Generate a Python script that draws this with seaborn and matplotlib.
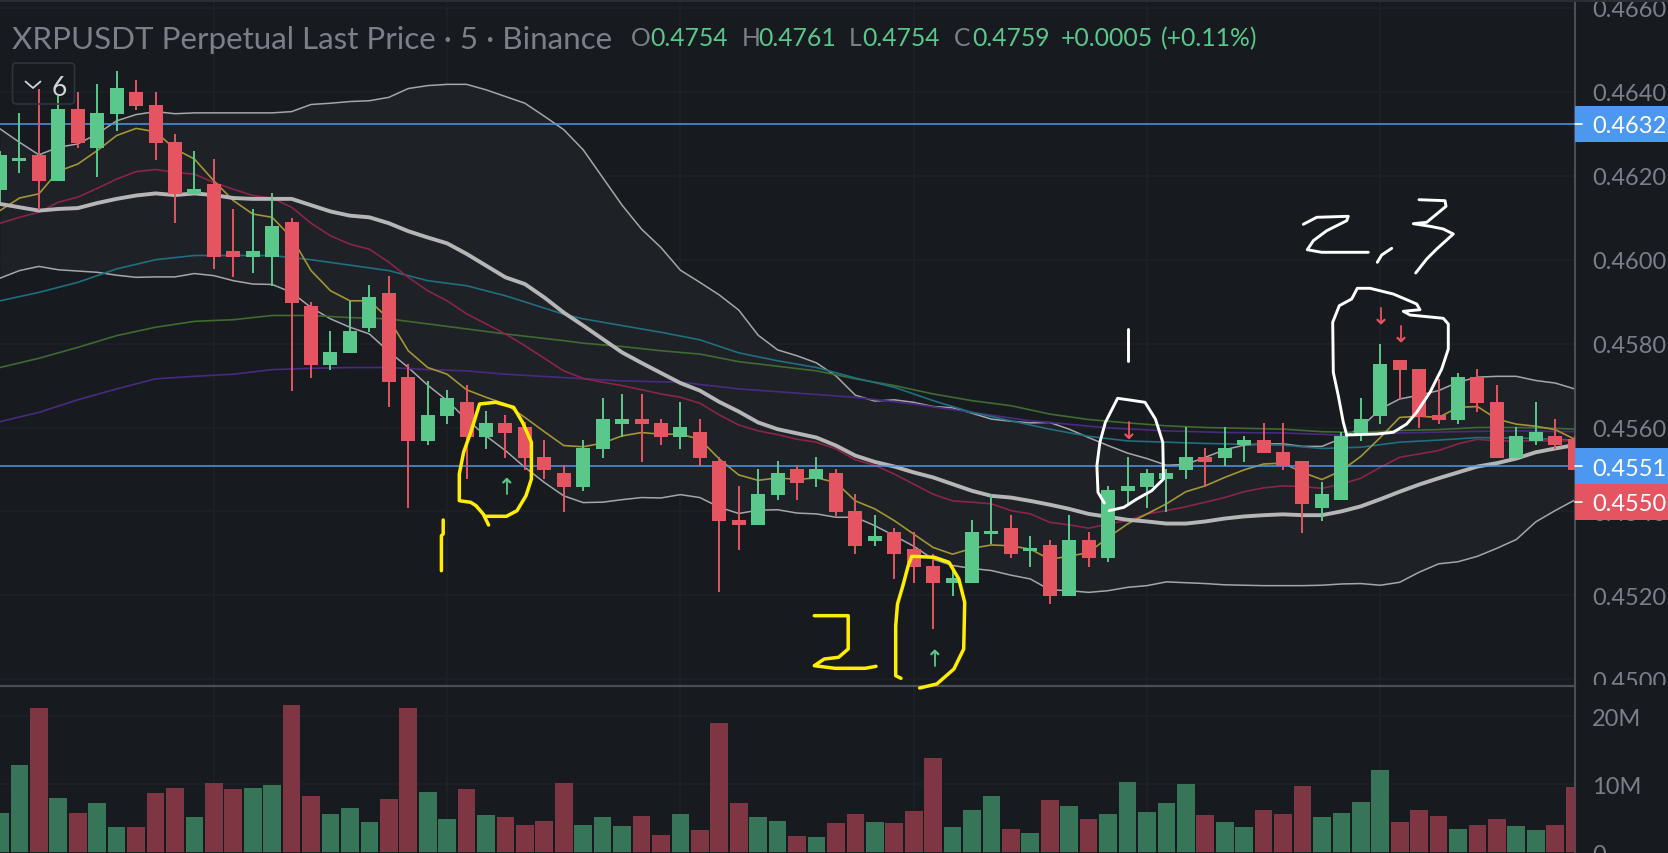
import numpy as np
import pandas as pd
import matplotlib
matplotlib.use("Agg")
import matplotlib.pyplot as plt
from matplotlib.patches import Rectangle, FancyBboxPatch
from matplotlib.transforms import Bbox
import seaborn as sns

# ---------- data ----------
open_ = [.46167,.46236,.46250,.46188,.46359,.46266,.46347,.46400,.46369,.46281,.46157,.46180,.46021,.46006,.46006,.46090,.45890,.45749,.45778,.45837,.45921,
         .45720,.45568,.45627,.45661,.45577,.45611,.45601,.45530,.45491,.45458,.45549,.45608,.45620,.45611,.45577,.45589,.45520,.45379,.45367,.45439,
         .45501,.45477,.45491,.45401,.45329,.45351,.45310,.45270,.45229,.45229,.45346,.45360,.45306,.45320,.45198,.45332,.45289,.45449,.45458,.45477,
         .45499,.45530,.45527,.45558,.45570,.45541,.45520,.45408,.45427,.45584,.45627,.45761,.45739,.45630,.45618,.45720,.45661,.45527,.45568,.45580,.45572]
high = [.46260,.46349,.46408,.46391,.46399,.46419,.46450,.46428,.46400,.46300,.46259,.46240,.46121,.46121,.46159,.46099,.45899,.45830,.45902,.45940,.45960,
        .45751,.45711,.45689,.45701,.45639,.45630,.45612,.45570,.45510,.45570,.45670,.45680,.45680,.45620,.45661,.45620,.45529,.45461,.45501,.45520,
        .45510,.45530,.45501,.45441,.45391,.45360,.45351,.45298,.45260,.45379,.45441,.45391,.45341,.45332,.45391,.45351,.45461,.45530,.45501,.45501,
        .45601,.45551,.45601,.45580,.45611,.45611,.45520,.45470,.45590,.45670,.45799,.45761,.45739,.45716,.45730,.45739,.45701,.45601,.45661,.45620,.45580]
low = [.46137,.46207,.46119,.46188,.46266,.46198,.46307,.46357,.46238,.46087,.46157,.45978,.45959,.45968,.45938,.45687,.45718,.45737,.45778,.45828,.45649,
       .45408,.45558,.45608,.45477,.45549,.45527,.45499,.45477,.45398,.45449,.45527,.45577,.45518,.45558,.45549,.45508,.45208,.45308,.45367,.45427,
       .45427,.45458,.45389,.45298,.45317,.45239,.45229,.45120,.45198,.45229,.45322,.45289,.45267,.45179,.45198,.45267,.45279,.45418,.45408,.45398,
       .45477,.45458,.45508,.45518,.45539,.45499,.45348,.45377,.45427,.45568,.45608,.45668,.45599,.45608,.45608,.45637,.45527,.45527,.45558,.45549,.45499]
close = [.46250,.46242,.46188,.46359,.46278,.46350,.46409,.46366,.46278,.46157,.46168,.46006,.46006,.46021,.46080,.45897,.45749,.45780,.45830,.45911,.45708,
         .45568,.45630,.45670,.45577,.45611,.45587,.45527,.45499,.45458,.45551,.45620,.45620,.45608,.45577,.45601,.45527,.45377,.45367,.45441,.45491,
         .45468,.45501,.45398,.45317,.45341,.45298,.45267,.45229,.45241,.45351,.45353,.45298,.45313,.45198,.45332,.45289,.45451,.45461,.45491,.45491,
         .45530,.45518,.45551,.45570,.45539,.45508,.45418,.45441,.45580,.45620,.45751,.45737,.45625,.45618,.45720,.45658,.45527,.45580,.45589,.45558,.45499]
volume_m = [5.74,12.79,21.18,7.94,5.74,7.21,3.68,3.68,8.68,9.41,5.15,10.15,9.26,9.41,9.85,21.62,8.24,5.59,6.47,4.41,7.79,
            21.18,8.82,4.85,9.26,5.44,5.15,3.97,4.56,10.15,3.97,5.15,3.82,5.29,2.5,5.59,3.24,18.97,7.21,5.15,4.56,
            2.35,2.21,4.26,5.59,4.41,4.26,6.03,13.82,3.68,6.18,8.24,3.38,2.79,7.65,6.76,4.85,5.59,10.29,5.88,7.21,
            10.0,5.44,4.41,3.68,6.18,5.59,9.71,5.15,5.74,7.35,12.06,4.41,6.18,5.29,3.38,3.97,4.85,3.82,3.24,3.97,9.56]

bb_upper = [.46312,.46280,.46250,.46268,.46276,.46300,.46331,.46346,.46353,.46348,.46350,.46350,.46350,.46350,.46350,.46353,.46370,.46373,.46377,.46379,.46387,
            .46408,.46415,.46418,.46418,.46405,.46389,.46373,.46342,.46310,.46262,.46196,.46130,.46073,.46029,.45975,.45946,.45916,.45880,.45820,.45785,
            .45771,.45754,.45723,.45677,.45663,.45666,.45660,.45650,.45647,.45634,.45620,.45615,.45611,.45612,.45596,.45576,.45557,.45539,.45526,.45510,
            .45512,.45529,.45547,.45558,.45561,.45561,.45555,.45555,.45574,.45600,.45644,.45668,.45677,.45688,.45708,.45720,.45722,.45722,.45712,.45706,.45692]
bb_mid = [.46133,.46125,.46117,.46121,.46123,.46135,.46145,.46153,.46158,.46154,.46158,.46154,.46147,.46145,.46145,.46145,.46130,.46115,.46105,.46101,.46087,
          .46068,.46053,.46039,.46014,.45986,.45958,.45942,.45910,.45874,.45843,.45811,.45779,.45754,.45730,.45706,.45688,.45661,.45638,.45612,.45596,
          .45586,.45576,.45557,.45533,.45518,.45507,.45493,.45481,.45465,.45449,.45437,.45433,.45425,.45416,.45406,.45394,.45387,.45380,.45376,.45371,
          .45371,.45376,.45383,.45388,.45391,.45393,.45391,.45391,.45400,.45412,.45429,.45447,.45464,.45479,.45493,.45507,.45515,.45526,.45541,.45550,.45558]
bb_lower = [.45956,.45974,.45984,.45976,.45973,.45970,.45963,.45958,.45959,.45959,.45967,.45962,.45950,.45942,.45941,.45922,.45886,.45859,.45839,.45823,.45781,
            .45743,.45701,.45664,.45619,.45580,.45545,.45505,.45469,.45437,.45421,.45422,.45428,.45433,.45432,.45440,.45433,.45410,.45395,.45403,.45404,
            .45396,.45394,.45386,.45386,.45366,.45342,.45317,.45286,.45271,.45264,.45259,.45248,.45239,.45213,.45211,.45207,.45211,.45219,.45223,.45232,
            .45230,.45228,.45225,.45224,.45223,.45223,.45223,.45224,.45227,.45228,.45224,.45231,.45255,.45275,.45280,.45293,.45312,.45333,.45375,.45402,.45427]
ema_yellow = [.46117,.46147,.46157,.46211,.46228,.46260,.46296,.46313,.46305,.46264,.46240,.46188,.46141,.46109,.46101,.46053,.45974,.45926,.45902,.45902,.45859,
              .45783,.45743,.45727,.45690,.45672,.45656,.45624,.45590,.45557,.45554,.45563,.45580,.45588,.45584,.45584,.45572,.45525,.45487,.45474,.45480,
              .45476,.45480,.45469,.45425,.45406,.45378,.45346,.45314,.45298,.45312,.45320,.45318,.45310,.45286,.45293,.45302,.45338,.45370,.45394,.45418,
              .45447,.45461,.45481,.45499,.45513,.45515,.45493,.45476,.45497,.45531,.45576,.45624,.45627,.45624,.45648,.45650,.45620,.45608,.45603,.45595,.45572]
ema_crimson = [.46087,.46101,.46113,.46137,.46149,.46170,.46192,.46210,.46215,.46208,.46204,.46184,.46168,.46153,.46147,.46125,.46087,.46057,.46037,.46025,.45994,
               .45958,.45926,.45902,.45871,.45847,.45823,.45795,.45765,.45735,.45717,.45708,.45700,.45690,.45680,.45672,.45658,.45630,.45606,.45592,.45583,
               .45572,.45565,.45549,.45523,.45510,.45489,.45465,.45441,.45425,.45422,.45418,.45402,.45394,.45374,.45368,.45360,.45370,.45378,.45394,.45402,
               .45411,.45422,.45433,.45447,.45456,.45461,.45459,.45455,.45465,.45479,.45505,.45529,.45537,.45545,.45561,.45572,.45568,.45568,.45568,.45568,.45568]
teal_i = [0,2,4,6,8,10,12,14,16,18,20,22,24,26,29,30,32,34,36,38,40,42,44,46,48,50,52,54,56,58,60,62,64,66,68,70,72,74,76,78,80,81]
teal_p = [.45902,.45922,.45946,.45978,.46000,.46010,.46010,.46010,.46000,.45987,.45974,.45950,.45938,.45914,.45870,.45859,.45843,.45827,.45809,.45778,.45759,
          .45743,.45718,.45696,.45664,.45636,.45616,.45596,.45579,.45568,.45565,.45562,.45560,.45558,.45550,.45553,.45565,.45570,.45576,.45575,.45572,.45570]
green_i = [0,2,4,6,8,10,12,14,16,18,20,22,24,26,29,30,32,34,36,38,40,42,44,46,48,50,52,54,56,58,60,62,64,66,68,70,72,74,76,78,80,81]
green_p = [.45743,.45765,.45791,.45819,.45839,.45853,.45857,.45867,.45867,.45862,.45859,.45847,.45835,.45823,.45807,.45801,.45793,.45783,.45775,.45757,.45746,
           .45735,.45716,.45700,.45680,.45664,.45652,.45632,.45619,.45611,.45604,.45600,.45598,.45596,.45590,.45588,.45593,.45595,.45600,.45600,.45598,.45596]
purple_i = [0,2,4,6,8,10,12,14,16,18,20,22,24,26,29,32,35,38,41,44,47,50,53,54,57,60,63,66,69,72,75,78,81]
purple_p = [.45614,.45636,.45666,.45692,.45716,.45722,.45727,.45738,.45741,.45743,.45743,.45738,.45735,.45727,.45719,.45711,.45708,.45692,.45682,.45672,.45656,.45636,.45616,.45612,.45599,.45592,.45588,.45587,.45582,.45587,.45590,.45592,.45590]

price_ticks = [0.4500,0.4520,0.4540,0.4560,0.4580,0.4600,0.4620,0.4640,0.4660]
volume_ticks = [0,10,20]
hour_candles = [11,23,35,47,59,71]
blue_levels = [0.46324,0.45508]
last_price_label = "0.4550"
title_text = "XRPUSDT Perpetual Last Price · 5 · Binance"
legend_parts = ["O","0.4754","H","0.4761","L","0.4754","C","0.4759","+0.0005","(+0.11%)"]

# hand-drawn marks on the screenshot (screen pixels)
yellow_strokes = [
    [(488.6,526),(483.2,515),(476,506.7),(470.7,503.3),(459.3,501.7),(459.3,475),(463.6,453.3),(470.7,433.3),(479.6,405),(495.7,403.3),(513.6,408.3),(522.5,423.3),(531.4,443.3),(531.4,480),(526,496.7),(517,511.7),(506.4,517.3),(485,517.3)],
    [(443.2,521),(443.2,535),(441.4,536.7),(441.4,571.7)],
    [(814.3,616.7),(848.2,616.7),(848.2,650),(838.6,658.3),(824.3,660),(814.3,666.7),(835,669.3),(865.4,669.3),(876,667.3)],
    [(901,679.3),(895.7,676.7),(895.7,626.7),(897.5,605),(902.9,586.7),(908.2,566.7),(911.8,557.3),(934.3,558.3),(949,563.3),(958.8,580),(964.7,603.3),(963.7,650),(953.9,670),(936.8,685),(919.6,689)],
]
white_strokes = [
    [(1128,330),(1128,362)],
    [(1104.3,504),(1098,493.3),(1096.9,466.7),(1099.9,443.3),(1105.4,423.3),(1117.6,399.3),(1127.6,400.7),(1145,403.3),(1155.4,420),(1162.8,443.3),(1163.5,480),(1151.7,491.7),(1136.9,500),(1123.9,508.3),(1109.1,511.7)],
    [(1346.7,436),(1343.3,423.3),(1338.3,396.7),(1333.3,373.3),(1332.7,323.3),(1339.3,306.7),(1351.7,300),(1357.3,289.3),(1370,289.3),(1393.3,295),(1416.7,305),(1420,310.7),(1403.3,312.3),(1410,316),(1443.3,319.3),(1448.3,325),(1448.3,350),(1441.7,370),(1430,393.3),(1416.7,413.3),(1406.7,425),(1393.3,433.3),(1376.7,435),(1346.7,436)],
    [(1303.3,225.3),(1316.7,218.3),(1348.3,217.3),(1346.7,221.7),(1326.7,231.7),(1313.3,241.7),(1307.3,250.7),(1321.7,253.3),(1368.3,253.3)],
    [(1391.7,249.3),(1381.7,256),(1377.3,263.3)],
    [(1419,200.7),(1445,201.7),(1446,207.3),(1426.7,223.3),(1413.3,224.7),(1430,227.3),(1443.3,230),(1453.3,235),(1436.7,250),(1426.7,260),(1415.7,274)],
]
up_arrows = [(506.8,480,495),(934.8,651.7,666.7)]
down_arrows = [(1128.9,423.3,439),(1381,309.3,324.3),(1401,327,342.3)]

# ---------- style ----------
BG = "#171b20"; BAND = "#1e2126"; GRID = "#1d2126"; AXIS = "#4a4e57"; TXT = "#7b7f8a"
UP = "#5bc88b"; DOWN = "#e55461"; VUP = "#377558"; VDOWN = "#7e3742"; BLUE = "#4c97f0"

sns.set_theme(style="dark", rc={"axes.facecolor": BG, "figure.facecolor": BG})
plt.rcParams["font.family"] = ["Lato", "DejaVu Sans"]

W, H = 1668, 854
AX_R, SEP = 1575, 686.7
fig = plt.figure(figsize=(W/100, H/100), dpi=100)
ax = fig.add_axes([0, 1-SEP/H, AX_R/W, SEP/H])
axv = fig.add_axes([0, 0, AX_R/W, 1-SEP/H])
idx = np.arange(len(open_))

# ---------- indicators ----------
ax.fill_between(idx, bb_lower, bb_upper, color=BAND, lw=0, zorder=1)
for xs, ys, c, lw in [
    (idx, bb_lower, "#a6a6a8", 1.1), (idx, bb_upper, "#a6a6a8", 1.1),
    (purple_i, purple_p, "#4a2a80", 1.2), (green_i, green_p, "#3f6b30", 1.2),
    (teal_i, teal_p, "#1f6f80", 1.2), (idx, ema_crimson, "#8a2449", 1.2),
    (idx, ema_yellow, "#a39535", 1.2), (idx, bb_mid, "#b6b6b6", 2.8)]:
    sns.lineplot(x=xs, y=ys, ax=ax, color=c, lw=lw, zorder=2)

for lv in blue_levels:
    ax.axhline(lv, color=BLUE, lw=1.1, zorder=2.5)

# ---------- candles ----------
o, h, l, c = map(np.array, (open_, high, low, close))
colors = np.where(c >= o, UP, DOWN)
ax.vlines(idx, l, h, colors=colors, lw=1.4, zorder=3)
ax.bar(idx, np.abs(c-o), bottom=np.minimum(o, c), width=0.72, color=colors, lw=0, zorder=3)

# ---------- volume ----------
df = pd.DataFrame({"i": idx, "vol": volume_m, "dir": np.where(c >= o, "up", "down")})
sns.barplot(data=df, x="i", y="vol", hue="dir", palette={"up": VUP, "down": VDOWN},
            native_scale=True, dodge=False, width=0.91, saturation=1, legend=False, ax=axv,
            zorder=3, linewidth=0, edgecolor="none")

# ---------- axes ----------
xlim = (0, AX_R/19.44)
ax.set_xlim(xlim); axv.set_xlim(xlim)
ax.set_ylim(.46+(260.7-SEP)/41950, .46+260.7/41950)
axv.set_ylim(-0.147, 24.46)
for a in (ax, axv):
    a.set_facecolor(BG)
    a.set_xlabel(""); a.set_ylabel("")
    a.set_xticks(hour_candles); a.set_xticklabels([])
    a.yaxis.tick_right()
    a.tick_params(axis="x", length=0)
    a.tick_params(axis="y", length=5.8, width=1.2, color=AXIS, labelcolor=TXT, labelsize=17, pad=6.5,
                  right=True, left=False, labelright=True, labelleft=False)
    a.grid(True, color=GRID, lw=1.3)
    sns.despine(ax=a, left=True, top=True, bottom=True, right=False)
    a.spines["right"].set_color(AXIS); a.spines["right"].set_linewidth(1.5)
    a.spines["right"].set_visible(True)
ax.set_yticks(price_ticks); ax.set_yticklabels([f"{p:.4f}" for p in price_ticks])
axv.set_yticks(volume_ticks); axv.set_yticklabels(["0", "10M", "20M"])

# tick labels are cut by the pane edges, as on the screen
fig.canvas.draw()
for a, top, bot in ((ax, 2, SEP-1), (axv, SEP+1, H)):
    box = Bbox([[0, H-bot], [W, H-top]])
    for t in a.yaxis.get_major_ticks():
        t.label2.set_clip_on(True)
        t.label2.set_clip_box(box)

# price labels on the scale
dx = (W-AX_R)/19.44
dp = 35.7/41950
def price_box(center, col, text):
    ax.add_patch(Rectangle((xlim[1], center-dp/2), dx, dp, color=col, lw=0, clip_on=False, zorder=6))
    ax.plot([xlim[1], xlim[1]+0.35], [center, center], color="white", lw=1.2, clip_on=False, zorder=7)
    ax.annotate(text, xy=(xlim[1], center), xytext=(17.5, 0), textcoords="offset pixels", color="white",
                fontsize=17, va="center_baseline", ha="left", zorder=7, annotation_clip=False)
price_box(blue_levels[0], BLUE, f"{blue_levels[0]:.4f}")
price_box(blue_levels[1], BLUE, f"{blue_levels[1]:.4f}")
price_box(blue_levels[1]-dp, DOWN, last_price_label)

# ---------- overlay: separator, legend, hand-drawn marks ----------
ov = fig.add_axes([0, 0, 1, 1], zorder=10)
ov.set_xlim(0, W); ov.set_ylim(H, 0); ov.axis("off"); ov.patch.set_alpha(0)
ov.plot([0, AX_R], [SEP, SEP], color=AXIS, lw=1.6, solid_capstyle="butt")
ov.add_patch(Rectangle((0, 0), W, 2.5, color="#2a2e36", lw=0))

ov.text(12, 37, title_text, color=TXT, fontsize=22.6, va="center_baseline", ha="left")
part_x = [631, 650, 741.5, 758, 849, 862, 954, 972, 1061, 1161]
for s, x, col in zip(legend_parts, part_x, [TXT, UP]*4 + [UP, UP]):
    ov.text(x, 37, s, color=col, fontsize=17.8, va="center_baseline", ha="left")

ov.add_patch(FancyBboxPatch((14, 65.5), 59, 38, boxstyle="round,pad=1.5,rounding_size=4", fc="none", ec="#30343c", lw=1.2))
ov.plot([25.5, 33, 40.5], [82.5, 89, 82.5], color="#d1d4dc", lw=1.3)
ov.text(59, 85.5, "6", color="#d1d4dc", fontsize=19, va="center_baseline", ha="center")

for strokes, col, lw in ((yellow_strokes, "#ffee00", 2.5), (white_strokes, "#ffffff", 2.1)):
    for s in strokes:
        xs, ys = zip(*s)
        ov.plot(xs, ys, color=col, lw=lw, solid_capstyle="round", solid_joinstyle="round")
for x, y0, y1 in up_arrows:
    ov.plot([x, x], [y0, y1], color=UP, lw=1.3)
    ov.plot([x-3.5, x, x+3.5], [y0+3.5, y0, y0+3.5], color=UP, lw=1.6)
for x, y0, y1 in down_arrows:
    ov.plot([x, x], [y0, y1], color=DOWN, lw=1.3)
    ov.plot([x-3.5, x, x+3.5], [y1-3.5, y1, y1-3.5], color=DOWN, lw=1.6)

fig.savefig("out.png", dpi=100, facecolor=BG)
